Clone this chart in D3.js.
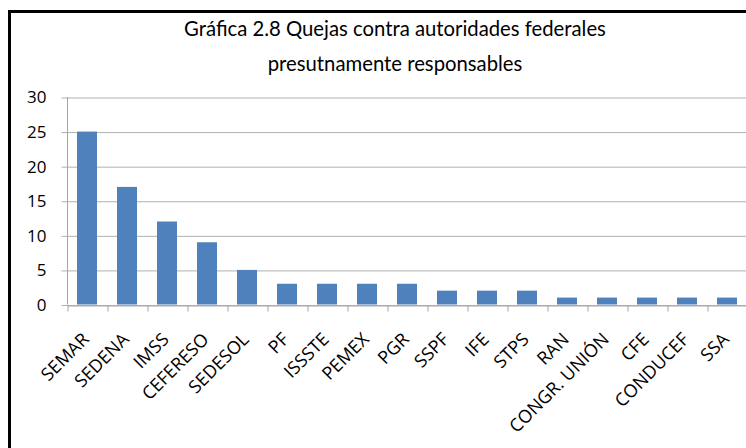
<!DOCTYPE html>
<html>
<head>
<meta charset="utf-8">
<script src="https://cdn.jsdelivr.net/npm/d3@7"></script>
<style>
  body { margin: 0; background: #fff; }
  svg { display: block; }
</style>
</head>
<body>
<div class="svg-mount"></div>
<script>
const categories = [
  "SEMAR", "SEDENA", "IMSS", "CEFERESO", "SEDESOL", "PF", "ISSSTE", "PEMEX",
  "PGR", "SSPF", "IFE", "STPS", "RAN", "CONGR. UNIÓN", "CFE", "CONDUCEF", "SSA",
];
const quejas = [25, 17, 12, 9, 5, 3, 3, 3, 3, 2, 2, 2, 1, 1, 1, 1, 1];
const yTicks = [0, 5, 10, 15, 20, 25, 30];
const titleLines = [
  "Gráfica 2.8 Quejas contra autoridades federales",
  "presutnamente responsables",
];

const width = 746;
const height = 448;
const plot = { left: 67, right: 747, top: 97, bottom: 304.5 };
const labelFont = "'Open Sans', sans-serif";

const svg = d3
  .select(".svg-mount")
  .append("svg")
  .attr("width", width)
  .attr("height", height);

// outer frame (cropped on right and bottom in the original)
svg
  .append("path")
  .attr("d", `M9.5,${height + 5}V11.5H${width + 5}`)
  .attr("fill", "none")
  .attr("stroke", "#000")
  .attr("stroke-width", 3);

// title
svg
  .append("g")
  .selectAll("text")
  .data(titleLines)
  .join("text")
  .attr("x", 395)
  .attr("y", (d, i) => 36 + i * 35)
  .attr("text-anchor", "middle")
  .attr("font-family", "Lato, sans-serif")
  .attr("font-size", 20.3)
  .attr("fill", "#000")
  .text((d) => d);

const y = d3.scaleLinear().domain([0, 30]).range([plot.bottom, plot.top]);

const x = d3
  .scaleBand()
  .domain(categories)
  .range([plot.left, plot.right])
  .paddingInner(0.5)
  .paddingOuter(0.25);

// scale for tick marks at the category boundaries
const xEdges = d3
  .scaleLinear()
  .domain([0, categories.length])
  .range([plot.left, plot.right]);

// y gridlines + axis
const yAxis = svg
  .append("g")
  .attr("transform", `translate(${plot.left + 0.5},0)`)
  .call(
    d3
      .axisLeft(y)
      .tickValues(yTicks)
      .tickSize(-(plot.right - plot.left))
      .tickSizeOuter(0)
      .tickPadding(21)
  );
yAxis.select(".domain").remove();
yAxis
  .selectAll(".tick line")
  .attr("x1", -6)
  .attr("stroke", "#b0b0b0")
  .attr("transform", "translate(0,0.5)");
yAxis
  .selectAll(".tick text")
  .attr("font-family", labelFont)
  .attr("font-size", 17)
  .attr("fill", "#000")
  .attr("dy", "0.35em");

// vertical axis line
svg
  .append("line")
  .attr("x1", plot.left + 0.5)
  .attr("x2", plot.left + 0.5)
  .attr("y1", y(30))
  .attr("y2", y(0))
  .attr("stroke", "#a6a6a6");

// bars
svg
  .append("g")
  .selectAll("rect")
  .data(quejas)
  .join("rect")
  .attr("x", (d, i) => x(categories[i]))
  .attr("width", x.bandwidth())
  .attr("y", (d) => y(d))
  .attr("height", (d) => y(0) - y(d))
  .attr("fill", "#4f81bd");

// x axis
const xAxis = svg
  .append("g")
  .attr("transform", `translate(0.5,${Math.round(plot.bottom) + 0.5})`)
  .call(
    d3
      .axisBottom(xEdges)
      .tickValues(d3.range(0, categories.length + 1))
      .tickSize(6)
      .tickSizeOuter(0)
      .tickFormat("")
  );
xAxis.select(".domain").attr("stroke", "#a6a6a6");
xAxis.selectAll(".tick line").attr("stroke", "#a6a6a6");

// rotated category labels
svg
  .append("g")
  .selectAll("text")
  .data(categories)
  .join("text")
  .attr(
    "transform",
    (d) => `translate(${x(d) + x.bandwidth() / 2 + 3},${plot.bottom + 36}) rotate(-45)`
  )
  .attr("text-anchor", "end")
  .attr("font-family", labelFont)
  .attr("font-size", 18)
  .attr("fill", "#000")
  .text((d) => d);
</script>
</body>
</html>
